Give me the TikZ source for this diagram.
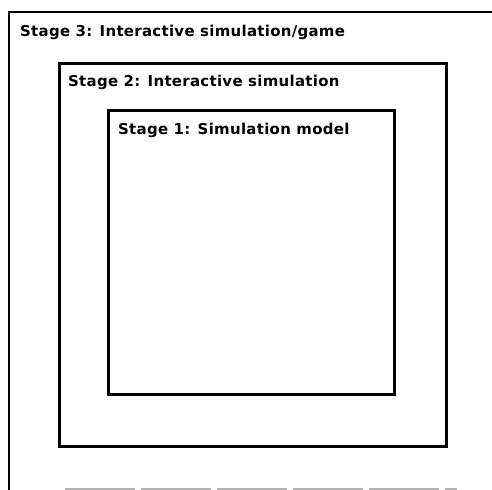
\documentclass[tikz,border=0pt]{standalone}
\usepackage{fontspec}
\setmainfont[LetterSpace=2]{DejaVu Sans}
\usepackage{tikz}
\usetikzlibrary{positioning,calc}

\begin{document}
\begin{tikzpicture}[x=1bp, y=-1bp,
    stagebox/.style={draw, line width=2.6bp, inner sep=0pt, anchor=north west},
    stagelabel/.style={font=\fontsize{15}{18}\selectfont\bfseries, anchor=base west, inner sep=0pt}]
\useasboundingbox (0,0) rectangle (492,490);
% outer frame, cut off at right and bottom
\coordinate (s3bl) at (9,490);
\coordinate (s3tl) at (9,12);
\coordinate (s3tr) at (492,12);
\draw[line width=2.4bp] (s3bl) -- (s3tl) -- (s3tr);
\draw[gray!60, line width=1.5bp, dash pattern=on 70bp off 6bp] ($(s3bl)+(56,-1)$) -- ++(392,0);
% nested boxes
\node[stagebox, minimum width=387bp, minimum height=383bp] (box2) at (58,62) {};
\node[stagebox, minimum width=286bp, minimum height=284bp] (box1) at (107,109) {};
% labels
\node[stagelabel] (lab3) at ($(s3tl)+(11,25)$) {Stage 3: Interactive simulation/game};
\node[stagelabel] (lab2) at ($(box2.north west)+(10,25)$) {Stage 2: Interactive simulation};
\node[stagelabel] (lab1) at ($(box1.north west)+(11,26)$) {Stage 1: Simulation model};
\end{tikzpicture}
\end{document}
